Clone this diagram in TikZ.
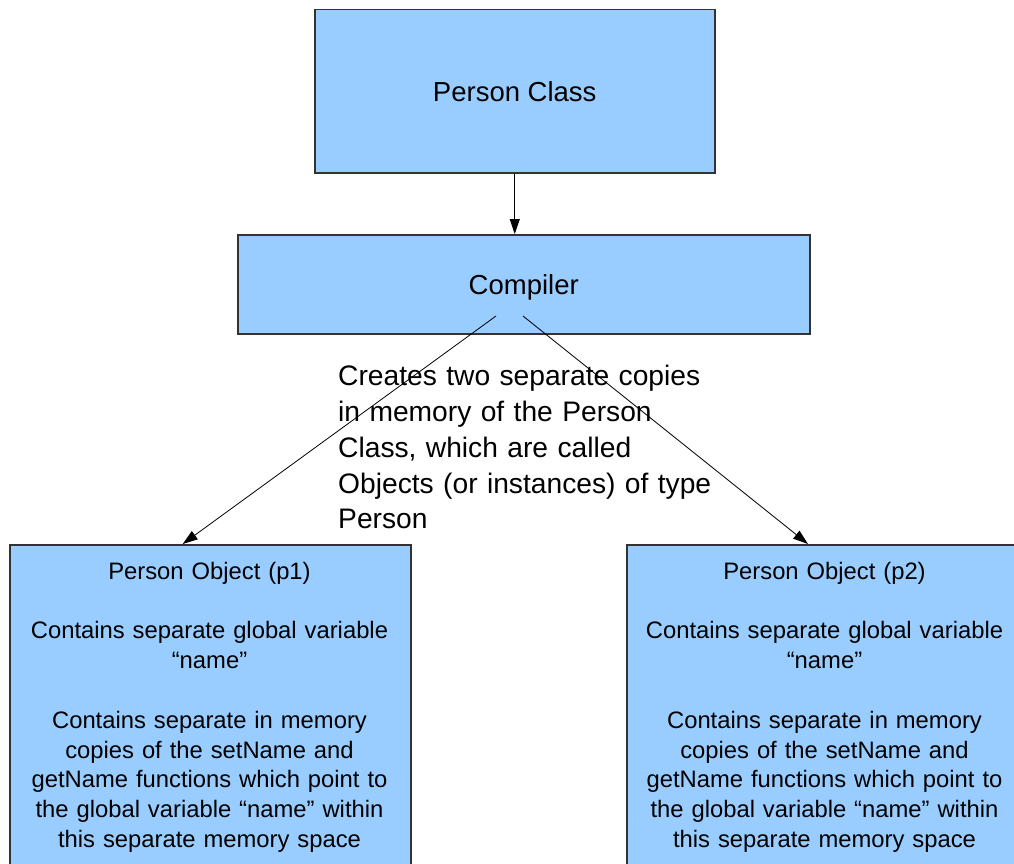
\documentclass[tikz,border=0pt]{standalone}
\usepackage{fontspec}
\setmainfont{Liberation Sans}
\usetikzlibrary{arrows.meta}
\definecolor{boxfill}{HTML}{99CCFF}
\definecolor{boxline}{HTML}{333333}
\begin{document}
\begin{tikzpicture}[x=1pt,y=-1pt,
  box/.style={draw=boxline, line width=1.5pt, fill=boxfill, inner sep=0pt, anchor=north west},
  bigtext/.style={font=\fontsize{27.5}{35.7}\selectfont},
  objtext/.style={font=\fontsize{23.8}{29.8}\selectfont, text width=400pt, align=center, inner sep=0pt, anchor=base},
  conn/.style={draw=black, line width=0.8pt, -{Triangle[length=15pt,width=10pt]}}]
\useasboundingbox (0,0) rectangle (1014,864);
\fill[white] (0,0) rectangle (1014,864);
\clip (0,0) rectangle (1014,864);

\node[box, bigtext, minimum width=400pt, minimum height=163pt] (pc) at (314,9) {Person Class};
\node[box, bigtext, text depth=0pt, minimum width=572pt, minimum height=99pt] (comp) at (237,234) {Compiler};
\node[box, minimum width=401pt, minimum height=400pt] (o1) at (9,544) {};
\node[box, minimum width=420pt, minimum height=400pt] (o2) at (626,544) {};

\node[objtext] (t1) at (209.5,579.3) {Person Object (p1)\\[29.8pt]
Contains separate global variable\\
“name”\\[29.8pt]
Contains separate in memory\\
copies of the setName and\\
getName functions which point to\\
the global variable “name” within\\
this separate memory space};
\node[objtext] (t2) at (824.5,579.3) {Person Object (p2)\\[29.8pt]
Contains separate global variable\\
“name”\\[29.8pt]
Contains separate in memory\\
copies of the setName and\\
getName functions which point to\\
the global variable “name” within\\
this separate memory space};

\node[font=\fontsize{28.2}{35.8}\selectfont, text width=420pt, align=left, inner sep=0pt, anchor=base west] (lbl) at (338,385.7) {Creates two separate copies\\
in memory of the Person\\
Class, which are called\\
Objects (or instances) of type\\
Person};

\coordinate (s1) at (496,316);
\coordinate (s2) at (523,316);
\coordinate (e1) at (182.7,544);
\coordinate (e2) at (808,544);

\draw[conn] (pc.south) -- (pc.south |- comp.north);
\draw[conn] (s1) -- (e1);
\draw[conn] (s2) -- (e2);
\end{tikzpicture}
\end{document}
